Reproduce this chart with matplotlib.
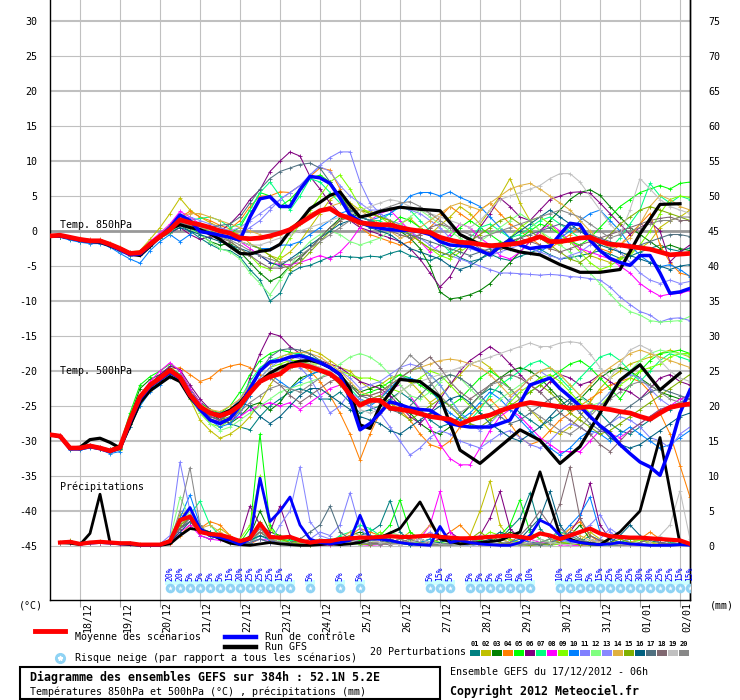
import matplotlib
matplotlib.use("Agg")
import matplotlib.pyplot as plt
from matplotlib.patches import Rectangle
from matplotlib.lines import Line2D

# ---- time axes (hours since 17/12/2012 06h) ----
hours = list(range(0, 385, 6))                       # ensemble, 6-hourly
gfs_hours = list(range(0, 193, 6)) + list(range(198, 379, 12))
day_hours = list(range(18, 385, 24))
day_labels = ["18/12", "19/12", "20/12", "21/12", "22/12", "23/12", "24/12", "25/12",
              "26/12", "27/12", "28/12", "29/12", "30/12", "31/12", "01/01", "02/01"]

pert_colors = ["#008080", "#c0c000", "#008000", "#ff8000", "#00ff00", "#800080", "#00ff80",
               "#ff00ff", "#80ff00", "#0080ff", "#8080ff", "#80ff80", "#8888ff", "#e0b040",
               "#80b000", "#006080", "#507080", "#806870", "#c0c0c0", "#888888"]

# ---- Temp 850hPa ----
mean_t850 = [-0.7, -0.6, -0.9, -1.2, -1.4, -1.4, -1.9, -2.5, -3.2, -3.1, -1.9,
             -0.8, 0.2, 1.6, 1.2, 0.9, 0.5, 0.0, -0.3,
             -1.0, -1.1, -1.0, -0.7, -0.3, 0.2, 1.1, 2.0, 2.9, 3.2, 2.3, 1.8, 1.2, 1.0,
             0.9, 0.9, 0.5, 0.2, 0.0, -0.2, -0.9, -1.3, -1.6, -1.7, -1.9, -2.1, -2.0, -1.9, -1.7, -1.3,
             -0.8, -1.5, -1.5, -1.3, -1.0, -0.9, -1.5, -1.9, -2.0, -2.2, -2.4, -2.6, -3.0, -3.4, -3.3, -3.2]
ctl_t850 = [-0.7, -0.7, -1.0, -1.3, -1.5, -1.5, -2.0, -2.7, -3.4, -3.3, -2.0,
            -0.8, 0.5, 2.3, 1.5, -0.1, -0.3, -0.6, -0.9,
            -1.3, 2.0, 4.6, 4.9, 3.5, 3.5, 5.9, 7.8, 7.6, 6.8, 4.7, 2.3, 1.4, 0.7,
            0.4, 0.2, 0.1, 0.1, -0.1, -0.5, -1.5, -2.0, -2.1, -2.2, -2.8, -3.4, -2.2, -1.3, -2.0, -2.5,
            -2.3, -2.2, -0.5, 1.1, 0.9, -1.3, -2.8, -3.9, -4.5, -4.9, -3.5, -3.5, -6.0, -8.9, -8.7, -8.2]
gfs_t850 = [-0.7, -0.7, -1.0, -1.3, -1.5, -1.6, -2.1, -2.7, -3.3, -3.5, -2.2,
            -0.8, 0.3, 0.9, 0.5, 0.2, -0.4, -1.2, -2.2,
            -3.2, -3.3, -2.9, -2.7, -1.9, 0.0, 1.4, 3.2, 4.1, 5.1, 5.6, 3.7, 2.0, 2.3,
            2.8, 3.4, 3.1, 2.9, -0.5, -1.9, -2.2, -3.0, -3.4, -4.8, -5.9, -5.9, -5.5, -0.4, 3.8, 3.9]
pert_t850 = [
    [-0.6, -0.8, -1.2, -1.5, -1.6, -1.5, -2.0, -2.6, -3.3, -3.0, -1.6,
     -0.5, 0.2, 0.8, 0.0, -1.0, -1.9, -2.6, -2.8,
     -3.7, -5.5, -7.0, -10.0, -8.9, -6.0, -5.2, -4.9, -4.3, -3.7, -3.6, -3.7, -3.8, -3.6,
     -3.7, -3.2, -2.8, -3.5, -3.9, -4.2, -3.6, -3.0, -3.8, -4.4, -4.0, -3.3, -3.9, -4.2, -3.6, -3.1,
     -2.6, -3.4, -4.0, -3.8, -3.5, -3.2, -2.8, -3.3, -3.9, -3.6, -3.0, -2.5, -2.0, -2.6, -2.9, -2.4],
    [-0.7, -0.5, -0.8, -1.1, -1.3, -1.2, -1.7, -2.3, -3.0, -2.8, -1.2,
     0.5, 2.5, 4.7, 3.0, 2.0, 1.2, 0.5, 0.0,
     -0.5, -1.8, -2.5, -3.5, -4.0, -3.0, -1.5, 0.5, 2.5, 4.5, 5.5, 4.0, 3.0, 2.8,
     2.0, 1.5, 1.0, 1.8, 0.5, -0.5, 0.8, 2.0, 3.5, 2.5, 1.0, 3.0, 5.0, 7.5, 4.0, 1.5,
     0.0, -1.5, -2.0, -1.0, -2.5, -3.5, -4.0, -4.5, -3.8, -3.0, -2.5, -1.5, 0.5, 1.5, 2.0, 3.0],
    [-0.8, -0.8, -1.1, -1.4, -1.5, -1.5, -2.1, -2.8, -3.4, -3.3, -2.0,
     -0.9, 0.0, 0.8, 0.5, -0.5, -1.5, -2.0, -1.8,
     -3.0, -4.5, -6.0, -7.2, -6.5, -5.0, -3.8, -2.5, -1.0, 0.5, 1.8, 2.5, 2.0, 1.5,
     1.0, 0.5, 0.0, -1.0, -2.5, -5.0, -8.7, -9.7, -9.5, -9.1, -8.5, -7.5, -6.0, -4.5, -3.0, -1.5,
     0.0, 1.5, 3.0, 4.5, 5.5, 5.9, 5.1, 3.5, 2.0, 0.5, -0.5, -1.5, -2.5, -2.0, -2.5, -2.8],
    [-0.5, -0.6, -0.8, -1.0, -1.2, -1.3, -1.8, -2.4, -3.0, -2.9, -1.7,
     -0.6, 0.5, 2.0, 2.8, 2.0, 1.5, 0.8, 0.3,
     1.5, 3.5, 5.0, 5.0, 5.6, 5.5, 6.5, 7.8, 9.0, 8.7, 6.0, 2.5, 0.5, -0.5,
     -1.0, -1.5, -2.0, -1.5, -0.5, 0.5, 2.0, 3.5, 2.5, 1.5, 3.0, 4.0, 2.5, 1.0, 0.0, -1.0,
     -2.0, -2.5, -1.5, -0.5, 0.5, -1.0, -2.5, -3.0, -2.0, -0.5, 1.0, 2.5, -2.0, -4.5, -6.0, -6.4],
    [-0.7, -0.7, -1.0, -1.3, -1.5, -1.4, -1.9, -2.4, -3.1, -3.0, -1.8,
     -0.6, 0.6, 2.0, 1.5, 1.0, 0.6, 0.2, -0.3,
     0.5, 3.0, 5.5, 5.0, 3.5, 4.5, 6.0, 7.5, 8.0, 7.0, 5.0, 3.5, 2.0, 1.5,
     1.0, 0.8, 2.0, 1.5, 0.5, -0.5, -1.5, -1.0, 0.5, 1.5, 0.5, -0.5, -1.5, -2.0, -1.0, 0.0,
     1.0, 0.5, -0.5, -1.5, -2.0, -1.0, 0.5, 2.0, 3.5, 4.5, 5.5, 6.0, 6.5, 6.0, 6.8, 7.0],
    [-0.6, -0.7, -1.0, -1.3, -1.6, -1.6, -2.2, -2.8, -3.5, -3.4, -2.2,
     -1.0, -0.3, 0.5, -0.5, -1.2, -0.8, 0.0, 1.0,
     2.5, 4.5, 5.9, 8.5, 10.0, 11.3, 10.7, 7.8, 6.0, 4.0, 2.5, 1.5, 0.5, 0.0,
     -0.5, -1.0, -1.5, -2.5, -4.0, -6.0, -8.0, -6.5, -4.0, -2.0, 0.5, 2.5, 4.7, 3.5, 2.0, 1.5,
     3.0, 4.5, 5.0, 5.5, 5.6, 5.4, 4.0, 2.5, 1.0, -0.5, 0.5, 1.3, 0.0, -4.4, -3.0, -2.0],
    [-0.7, -0.6, -0.9, -1.2, -1.4, -1.5, -2.0, -2.6, -3.2, -3.2, -2.1,
     -1.0, -0.2, 1.0, 1.5, 1.8, 2.0, 1.5, 0.5,
     1.0, 3.0, 5.5, 7.0, 5.0, 3.0, 5.0, 7.5, 7.0, 5.5, 4.0, 3.0, 2.0, 1.5,
     1.5, 2.5, 3.5, 3.0, 1.5, 0.0, -1.5, -3.0, -2.0, -1.0, 0.5, 1.0, 0.0, -1.0, -0.5, 0.5,
     1.5, 2.0, 1.0, 0.0, -1.0, -0.5, -1.5, -2.5, -1.0, 1.0, 3.0, 6.8, 5.0, 4.0, 5.0, 4.5],
    [-0.6, -0.5, -0.8, -1.1, -1.3, -1.3, -1.8, -2.5, -3.1, -2.9, -1.5,
     -0.3, 1.0, 2.8, 2.0, 1.0, 0.5, -0.5, -1.0,
     -1.5, -2.5, -3.5, -4.5, -4.8, -4.8, -4.5, -4.0, -3.5, -4.0, -3.0, -1.5, 0.5, 1.5,
     2.5, 3.0, 1.5, 0.0, -1.5, -3.0, -2.0, -0.5, 1.0, 0.5, -1.0, -2.0, -3.5, -4.0, -3.0, -1.5,
     0.0, 1.0, 0.0, -1.5, -2.5, -3.0, -3.5, -4.0, -5.0, -6.0, -7.5, -8.5, -9.3, -9.0, -8.9, -8.5],
    [-0.7, -0.7, -1.0, -1.3, -1.4, -1.4, -1.9, -2.5, -3.2, -3.1, -2.0,
     -0.8, 0.2, 1.5, 1.0, 0.5, 0.0, -0.5, -1.5,
     -2.5, -3.5, -5.0, -5.5, -3.5, -1.0, 1.0, 3.0, 5.0, 7.0, 8.0, 6.0, 3.5, 2.5,
     2.0, 1.0, 0.5, -0.5, -1.5, -2.5, -3.5, -4.0, -3.0, -2.0, -3.0, -3.5, -2.5, -1.0, 0.5, 1.5,
     2.0, 1.0, -0.5, -1.5, -3.0, -4.5, -5.5, -5.0, -4.0, -3.5, -2.0, 0.0, 2.5, 4.5, 5.0, 4.8],
    [-0.8, -0.9, -1.3, -1.6, -1.8, -1.8, -2.3, -3.2, -4.0, -4.6, -2.8,
     -1.5, -0.5, -1.5, -0.5, 0.5, 0.0, -0.5, -1.0,
     -1.5, -2.0, -2.5, -2.5, -2.0, -2.0, -1.5, -0.5, 0.5, 1.5, 2.5, 3.0, 2.0, 1.5,
     2.0, 2.5, 3.5, 5.0, 5.5, 5.5, 5.0, 5.6, 4.8, 4.2, 3.5, 2.0, 0.5, -1.0, -2.0, -2.5,
     -3.0, -2.0, -1.0, 0.0, 1.5, 2.5, 3.0, 1.5, 0.0, -2.0, -3.5, -4.5, -5.1, -4.8, -5.5, -6.5],
    [-0.6, -0.6, -0.9, -1.2, -1.3, -1.4, -1.8, -2.4, -3.0, -3.0, -1.8,
     -0.5, 0.5, 1.5, 1.0, 0.5, 0.0, -0.5, -1.0,
     -0.5, 0.5, 1.5, 3.0, 4.5, 5.5, 6.5, 8.0, 9.4, 10.5, 11.3, 11.3, 7.0, 4.0,
     2.5, 1.5, 1.0, 0.0, -1.0, -2.0, -3.0, -3.5, -4.0, -4.5, -5.0, -5.5, -6.0, -6.0, -6.1, -6.2,
     -6.3, -6.2, -6.3, -6.5, -6.6, -6.8, -7.0, -8.0, -9.4, -10.5, -11.5, -12.0, -13.0, -12.5, -12.4, -12.8],
    [-0.7, -0.8, -1.1, -1.4, -1.5, -1.5, -2.1, -2.8, -3.5, -3.3, -2.1,
     -1.0, -0.3, 0.8, 0.3, -0.5, -1.5, -2.5, -3.0,
     -4.0, -6.0, -7.5, -9.1, -7.0, -5.0, -3.0, -1.5, -0.5, 0.0, -0.5, -1.5, -2.0, -1.5,
     -1.0, 0.0, 1.0, 2.0, 3.0, 2.0, 1.0, 0.0, -1.0, -2.0, -1.5, -0.5, 0.5, 1.5, 2.5, 1.5,
     0.0, -1.0, -2.0, -3.0, -4.5, -6.0, -7.5, -9.0, -10.5, -11.5, -12.0, -12.8, -13.0, -12.9, -12.8, -12.2],
    [-0.6, -0.6, -0.9, -1.2, -1.4, -1.4, -1.9, -2.5, -3.2, -3.1, -1.9,
     -0.8, 0.3, 1.5, 2.0, 1.5, 1.0, 0.5, 0.0,
     0.5, 1.5, 2.5, 3.5, 4.5, 5.5, 6.5, 8.0, 9.2, 8.5, 6.5, 5.0, 4.0, 3.0,
     3.0, 3.2, 3.5, 3.0, 2.5, 1.5, 0.5, -1.0, -2.0, -2.5, -3.0, -3.5, -3.0, -2.5, -2.0, -2.5,
     -3.0, -3.5, -4.0, -3.5, -3.0, -2.0, -1.0, -2.0, -3.0, -4.5, -6.0, -7.0, -7.5, -7.0, -7.5, -7.2],
    [-0.7, -0.6, -0.9, -1.2, -1.4, -1.4, -1.9, -2.5, -3.1, -3.0, -1.8,
     -0.5, 0.8, 2.0, 2.5, 2.5, 2.0, 1.5, 1.0,
     0.5, 0.0, -0.5, -1.0, -0.5, 0.5, 1.5, 2.5, 3.0, 3.5, 4.0, 3.5, 3.0, 2.0,
     1.0, 0.0, -1.0, -0.5, 0.5, 1.5, 2.5, 3.5, 4.0, 3.5, 3.0, 4.0, 5.0, 6.0, 6.5, 6.8,
     6.0, 5.0, 4.0, 3.0, 1.5, 0.0, -1.5, -2.5, -2.0, -1.0, 1.0, 3.5, 5.1, 4.5, 3.5, 3.0],
    [-0.7, -0.7, -1.0, -1.3, -1.5, -1.5, -2.0, -2.6, -3.3, -3.2, -2.0,
     -0.7, 0.5, 1.5, 1.0, 0.5, 0.0, -0.5, -1.0,
     -1.5, -2.0, -2.5, -3.5, -4.5, -5.5, -4.5, -3.0, -1.5, 0.0, 1.5, 2.5, 3.0, 2.5,
     2.0, 1.5, 0.5, -0.5, -1.5, -2.5, -3.0, -3.5, -2.5, -1.5, -0.5, 0.5, 1.5, 2.0, 1.0, 0.0,
     -1.0, -2.0, -3.0, -4.0, -4.5, -3.5, -2.0, -0.5, 1.0, 2.0, 3.0, 3.5, 3.0, 2.5, 2.0, 1.5],
    [-0.8, -0.8, -1.1, -1.4, -1.6, -1.6, -2.1, -2.7, -3.4, -3.3, -2.1,
     -1.0, -0.2, 0.5, 0.0, -0.5, -1.0, -1.5, -2.0,
     -2.5, -3.0, -3.5, -4.5, -5.0, -4.0, -3.0, -2.0, -1.0, 0.0, 1.0, 1.5, 1.0, 0.5,
     0.0, -0.5, -1.5, -2.5, -3.0, -3.5, -4.0, -5.0, -5.5, -5.0, -4.0, -3.0, -2.0, -1.0, 0.0, 1.0,
     2.0, 3.0, 2.0, 1.0, 0.0, -1.0, -2.0, -2.5, -3.0, -3.5, -4.0, -4.5, -5.0, -5.5, -5.0, -4.8],
    [-0.6, -0.7, -1.0, -1.3, -1.5, -1.5, -2.0, -2.6, -3.2, -3.1, -2.0,
     -0.7, 0.3, 1.3, 1.0, 0.5, 0.5, 0.8, 1.0,
     2.0, 4.0, 6.0, 7.5, 8.5, 9.0, 9.5, 9.7, 9.0, 7.0, 5.0, 3.0, 2.0, 1.5,
     1.0, 0.5, 0.0, -0.5, -1.0, -1.5, -2.0, -2.5, -3.0, -3.5, -3.0, -2.5, -2.0, -1.5, -1.0, -0.5,
     0.0, 0.5, 1.0, 0.5, 0.0, -0.5, -1.0, -1.5, -2.0, -2.5, -2.0, -1.5, -1.0, -0.5, -0.5, -0.8],
    [-0.7, -0.7, -1.0, -1.3, -1.5, -1.5, -2.0, -2.6, -3.3, -3.2, -2.0,
     -0.9, 0.0, 1.0, 0.5, 0.0, -0.5, -1.0, -1.5,
     -2.5, -3.5, -4.5, -5.3, -5.3, -5.0, -4.0, -2.5, -1.0, 0.5, 1.5, 2.0, 1.5, 1.0,
     0.5, 0.0, -0.5, -1.0, -0.5, 0.5, 1.0, 0.5, -0.5, -1.5, -2.5, -3.0, -2.5, -1.5, -1.0, -1.5,
     -2.0, -2.5, -3.0, -2.5, -2.0, -1.5, -1.0, -0.5, 0.0, 0.5, 1.0, 1.5, 1.8, 2.0, 1.5, 1.5],
    [-0.7, -0.6, -0.9, -1.2, -1.4, -1.4, -1.9, -2.5, -3.2, -3.1, -1.9,
     -0.7, 0.2, 1.0, 0.8, 0.5, 0.2, -0.3, -0.8,
     -1.5, -2.0, -2.0, -1.5, -1.0, -0.5, 0.0, 0.5, 1.0, 1.5, 2.0, 2.5, 3.0, 3.5,
     4.0, 4.5, 4.2, 3.5, 3.0, 2.5, 2.0, 1.5, 1.0, 0.5, 1.5, 3.0, 4.5, 5.0, 5.5, 6.0,
     6.5, 7.5, 8.2, 8.2, 7.0, 5.0, 3.0, 1.0, -0.5, 3.0, 7.5, 6.0, 4.5, 3.5, 3.0, 2.5],
    [-0.7, -0.7, -1.0, -1.3, -1.5, -1.4, -1.9, -2.6, -3.3, -3.2, -2.0,
     -0.8, 0.2, 1.2, 0.8, 0.3, -0.2, -0.8, -1.3,
     -2.0, -2.8, -3.5, -4.0, -4.5, -4.2, -3.5, -2.5, -1.5, -0.5, 0.5, 1.5, 2.0, 2.5,
     3.0, 3.5, 4.0, 4.2, 3.5, 2.5, 1.5, 0.5, 0.0, -0.5, -1.0, -0.5, 0.0, 0.5, 1.0, 1.5,
     2.0, 2.5, 3.0, 2.5, 2.0, 1.0, 0.0, -1.0, -0.5, 0.0, 0.5, 1.0, 1.5, 1.5, 2.0, 2.0],
]

# ---- Temp 500hPa ----
mean_t500 = [-29.1, -29.3, -31.0, -31.0, -30.7, -31.0, -31.4, -30.9, -27.0, -23.7, -22.0,
             -21.0, -19.9, -20.9, -23.4, -25.1, -26.0, -26.4, -25.9,
             -24.9, -23.1, -21.5, -20.8, -20.4, -19.3, -19.1, -19.4, -19.9, -20.4, -21.5, -23.4, -24.9, -24.2,
             -24.2, -25.3, -25.5, -25.7, -26.1, -26.5, -26.7, -26.9, -27.6, -27.0, -26.6, -26.3, -25.7, -25.2, -24.8, -24.5,
             -24.7, -24.9, -25.1, -25.3, -25.2, -25.1, -25.3, -25.5, -25.8, -26.0, -26.5, -26.9, -26.0, -25.2, -24.9, -24.7]
ctl_t500 = [-29.1, -29.3, -31.1, -31.1, -30.8, -31.1, -31.5, -31.0, -27.3, -24.0, -22.2,
            -21.2, -20.2, -21.0, -23.5, -25.5, -27.0, -27.5, -26.8,
            -25.0, -22.5, -20.0, -18.7, -18.5, -18.0, -17.8, -18.2, -18.8, -19.5, -20.5, -24.0, -28.4, -27.5,
            -26.0, -24.4, -24.8, -25.3, -25.5, -25.6, -26.5, -27.5, -27.8, -28.0, -28.0, -28.0, -27.5, -27.0, -24.6, -22.0,
            -21.5, -21.0, -22.5, -23.7, -25.0, -26.5, -27.8, -28.9, -30.5, -31.8, -33.0, -33.7, -34.9, -31.0, -26.0, -22.7]
gfs_t500 = [-29.1, -29.3, -31.0, -30.9, -29.8, -29.6, -30.2, -31.0, -27.8, -24.5, -22.8,
            -21.8, -20.8, -21.5, -23.8, -25.3, -26.0, -26.3, -25.6,
            -24.5, -22.8, -21.5, -20.3, -19.5, -19.0, -18.6, -18.5, -18.8, -19.5, -20.5, -22.5, -27.7, -28.2,
            -25.0, -21.2, -21.5, -23.7, -31.3, -33.2, -30.8, -28.4, -29.9, -33.2, -30.8, -26.0, -21.3, -19.1, -22.7, -20.3]
pert_t500 = [
    [-29.0, -29.4, -31.2, -31.1, -30.8, -31.1, -31.6, -31.2, -27.5, -24.2, -22.4,
     -21.3, -20.3, -21.0, -23.0, -24.5, -25.5, -26.5, -27.5,
     -28.0, -28.4, -26.5, -25.0, -24.0, -23.0, -22.5, -23.0, -24.0, -24.0, -23.0, -24.5, -26.0, -25.5,
     -25.0, -24.0, -23.0, -24.0, -25.5, -27.0, -28.0, -27.5, -26.5, -25.0, -23.5, -22.5, -23.0, -24.5, -26.0, -27.0,
     -28.0, -27.0, -26.0, -24.5, -23.5, -24.5, -26.0, -27.5, -28.5, -29.0, -28.0, -27.0, -26.0, -25.5, -25.0, -24.5],
    [-29.1, -29.3, -31.1, -31.0, -30.8, -31.1, -31.5, -31.3, -28.0, -25.0, -22.8,
     -21.5, -20.4, -20.5, -24.0, -27.0, -28.5, -29.6, -29.0,
     -28.0, -26.5, -24.5, -22.0, -20.0, -18.5, -17.5, -17.0, -17.5, -18.5, -19.5, -20.0, -21.5, -22.5,
     -22.0, -21.0, -20.5, -21.5, -23.0, -24.5, -23.5, -22.0, -20.5, -19.0, -18.5, -19.5, -21.0, -22.5, -24.0, -25.5,
     -27.0, -28.5, -29.0, -28.0, -26.5, -24.5, -22.5, -21.0, -20.0, -19.0, -18.5, -18.0, -17.5, -17.0, -17.5, -18.0],
    [-29.2, -29.3, -31.0, -31.0, -30.7, -31.0, -31.4, -31.0, -26.5, -22.5, -21.2,
     -20.5, -19.5, -20.5, -22.5, -24.5, -26.0, -27.0, -27.5,
     -26.5, -25.0, -24.5, -25.6, -24.5, -22.5, -21.0, -20.5, -20.0, -20.5, -21.0, -22.0, -23.0, -22.5,
     -22.0, -23.0, -24.5, -26.0, -27.5, -28.5, -29.0, -28.0, -26.5, -25.0, -23.5, -22.0, -21.0, -20.0, -19.5, -20.0,
     -21.0, -22.5, -24.0, -25.5, -24.0, -22.5, -21.0, -20.0, -19.5, -20.0, -21.0, -22.0, -23.0, -23.5, -24.0, -23.5],
    [-29.0, -29.2, -30.9, -30.9, -30.6, -30.9, -31.3, -30.8, -27.2, -24.0, -22.3,
     -21.0, -19.8, -19.5, -20.5, -21.5, -21.0, -19.8, -19.3,
     -19.0, -19.5, -20.5, -21.0, -20.5, -19.5, -19.0, -20.0, -21.5, -23.5, -26.0, -29.0, -32.7, -29.0,
     -26.0, -24.5, -25.5, -27.0, -29.0, -30.5, -31.0, -30.0, -28.0, -26.5, -25.0, -24.0, -25.5, -27.5, -29.5, -30.5,
     -30.0, -28.5, -27.0, -26.0, -25.0, -24.0, -23.0, -22.0, -21.5, -21.0, -21.5, -23.0, -26.0, -29.0, -33.5, -38.0],
    [-29.1, -29.3, -30.9, -30.9, -30.6, -30.9, -31.2, -30.5, -26.0, -22.0, -20.8,
     -20.0, -19.0, -20.0, -22.5, -24.5, -25.5, -26.0, -25.0,
     -23.0, -20.5, -18.5, -17.5, -17.0, -17.3, -17.8, -18.5, -19.0, -19.5, -20.5, -22.0, -23.5, -23.0,
     -22.5, -21.5, -20.5, -21.0, -22.0, -23.0, -24.0, -25.0, -24.0, -22.5, -21.0, -20.0, -21.0, -22.5, -24.0, -23.0,
     -22.0, -21.0, -20.0, -19.0, -18.5, -19.5, -21.0, -22.5, -24.0, -22.0, -20.0, -18.5, -17.5, -17.3, -17.0, -17.5],
    [-29.0, -29.3, -31.0, -30.8, -30.5, -30.8, -31.2, -30.6, -26.8, -23.5, -21.8,
     -20.5, -19.3, -19.8, -22.0, -24.0, -25.5, -27.0, -27.5,
     -25.5, -21.0, -17.5, -14.6, -15.0, -16.5, -17.5, -18.0, -18.5, -19.0, -19.5, -20.5, -21.5, -22.0,
     -22.5, -23.5, -25.0, -26.5, -27.5, -26.0, -24.0, -22.0, -20.0, -18.5, -17.5, -16.5, -17.5, -19.0, -20.5, -22.0,
     -23.0, -21.5, -20.5, -21.0, -22.0, -21.5, -20.5, -21.5, -22.5, -23.0, -24.0, -22.5, -21.0, -20.5, -21.5, -22.0],
    [-29.2, -29.4, -31.1, -31.0, -30.8, -31.0, -31.4, -30.9, -27.0, -23.5, -21.8,
     -20.8, -19.7, -20.5, -23.0, -25.0, -26.0, -26.5, -25.5,
     -24.0, -21.5, -19.5, -18.5, -18.0, -17.5, -17.5, -18.0, -18.5, -19.5, -20.5, -22.5, -24.0, -24.5,
     -24.0, -22.5, -21.0, -20.0, -19.5, -20.5, -22.0, -24.0, -26.0, -27.0, -25.5, -23.5, -22.0, -21.0, -20.0, -19.0,
     -18.5, -19.5, -21.0, -22.5, -21.0, -19.5, -18.0, -17.5, -18.5, -20.0, -21.5, -20.0, -18.5, -17.5, -18.0, -18.5],
    [-29.0, -29.2, -30.8, -30.8, -30.6, -30.9, -31.3, -30.8, -26.8, -23.5, -21.5,
     -20.0, -18.8, -20.0, -22.5, -24.5, -26.0, -27.5, -27.0,
     -26.5, -25.5, -25.0, -24.5, -25.0, -24.5, -25.5, -24.5, -23.5, -22.5, -22.0, -23.0, -24.5, -24.0,
     -23.5, -22.5, -22.0, -23.5, -25.5, -28.0, -30.5, -32.5, -33.4, -33.4, -31.0, -28.5, -26.5, -25.5, -26.5, -28.0,
     -29.5, -30.5, -31.5, -31.5, -31.5, -30.0, -28.5, -29.0, -29.5, -28.5, -27.5, -26.5, -25.5, -25.0, -24.0, -23.5],
    [-29.1, -29.3, -31.0, -31.0, -30.7, -31.0, -31.5, -31.1, -27.5, -24.0, -22.0,
     -21.0, -20.0, -21.0, -23.5, -26.0, -27.5, -28.0, -27.0,
     -25.5, -23.5, -21.0, -19.5, -19.0, -18.5, -18.5, -19.0, -19.0, -19.5, -20.0, -20.5, -21.0, -21.0,
     -21.5, -22.5, -23.0, -22.0, -21.0, -20.0, -20.5, -22.0, -23.5, -25.0, -26.0, -27.0, -26.0, -24.5, -23.0, -22.0,
     -21.0, -20.5, -21.5, -23.0, -24.5, -26.0, -25.0, -23.5, -22.0, -21.0, -20.0, -19.5, -19.0, -18.0, -17.5, -17.5],
    [-29.2, -29.5, -31.3, -31.3, -31.0, -31.2, -31.8, -31.5, -28.0, -25.0, -23.0,
     -22.0, -20.8, -21.0, -23.0, -25.5, -27.0, -28.0, -27.5,
     -26.0, -23.5, -21.5, -20.5, -21.5, -22.5, -21.5, -20.5, -20.0, -20.5, -21.5, -23.0, -24.5, -25.0,
     -24.0, -22.5, -21.0, -21.0, -21.5, -22.5, -24.5, -26.0, -27.0, -26.0, -24.5, -23.0, -24.0, -25.5, -27.0, -28.5,
     -30.0, -31.0, -32.0, -31.0, -29.5, -28.5, -29.0, -30.0, -29.0, -28.0, -29.0, -30.0, -31.0, -30.5, -29.5, -28.5],
    [-29.0, -29.3, -31.0, -30.9, -30.6, -30.9, -31.3, -30.7, -26.8, -23.6, -21.9,
     -20.8, -19.7, -20.7, -23.3, -25.0, -25.8, -26.2, -25.5,
     -24.0, -22.0, -20.0, -19.0, -18.5, -18.5, -19.5, -21.0, -23.5, -26.0, -25.0, -23.0, -24.0, -25.0,
     -26.0, -28.0, -30.0, -32.0, -31.0, -29.5, -28.5, -29.0, -30.0, -30.5, -31.0, -30.0, -29.0, -28.5, -29.5, -30.5,
     -31.0, -30.0, -28.5, -27.5, -28.0, -29.0, -28.5, -27.5, -26.5, -27.0, -28.0, -29.5, -30.0, -31.0, -29.0, -28.0],
    [-29.2, -29.4, -31.1, -31.1, -30.8, -31.1, -31.6, -31.2, -27.6, -24.3, -22.5,
     -21.5, -20.5, -21.5, -24.0, -26.0, -27.5, -28.5, -28.0,
     -27.0, -26.0, -25.0, -24.0, -23.0, -22.5, -22.0, -21.5, -21.0, -20.0, -19.0, -18.0, -17.5, -18.0,
     -19.0, -20.5, -22.0, -23.5, -24.0, -23.0, -21.5, -20.5, -21.0, -22.5, -24.0, -25.0, -24.0, -23.0, -22.0, -21.0,
     -20.0, -19.5, -20.5, -22.0, -23.5, -25.0, -24.5, -23.0, -21.5, -20.0, -18.5, -17.5, -17.0, -17.3, -17.5, -17.8],
    [-29.1, -29.3, -31.0, -31.0, -30.7, -31.0, -31.4, -30.9, -27.2, -24.0, -22.2,
     -21.2, -20.2, -21.2, -23.5, -25.2, -26.0, -26.5, -26.0,
     -25.0, -23.0, -21.0, -19.5, -18.5, -18.0, -18.2, -18.5, -19.0, -19.5, -20.0, -21.0, -22.5, -22.0,
     -21.5, -20.5, -19.5, -19.0, -19.4, -20.5, -22.0, -24.0, -26.0, -27.5, -28.5, -27.5, -26.0, -24.0, -22.5, -21.0,
     -20.0, -21.0, -22.5, -24.0, -25.5, -26.0, -24.5, -23.0, -21.5, -20.5, -21.0, -22.5, -24.0, -25.0, -24.5, -23.5],
    [-29.0, -29.2, -30.9, -30.9, -30.6, -30.9, -31.3, -30.8, -27.0, -23.8, -22.0,
     -21.0, -20.0, -21.0, -23.2, -24.8, -25.5, -25.8, -25.0,
     -24.0, -22.0, -20.0, -19.0, -18.0, -17.5, -17.3, -17.5, -18.0, -19.0, -20.0, -21.5, -23.0, -23.5,
     -23.0, -22.0, -21.0, -20.0, -19.5, -19.0, -18.5, -18.3, -18.5, -19.0, -19.5, -20.5, -22.0, -23.5, -22.5, -21.0,
     -20.0, -19.5, -20.5, -22.0, -23.5, -22.0, -20.5, -19.5, -18.5, -17.5, -17.0, -17.5, -18.0, -18.5, -19.0, -19.5],
    [-29.1, -29.4, -31.1, -31.0, -30.7, -31.0, -31.4, -31.0, -27.3, -24.0, -22.0,
     -21.0, -20.0, -21.0, -23.5, -25.5, -26.5, -27.0, -26.5,
     -25.0, -23.0, -21.5, -20.5, -20.0, -19.5, -19.0, -19.0, -19.5, -20.5, -22.0, -23.5, -24.5, -24.0,
     -23.5, -24.5, -26.0, -27.0, -26.0, -25.0, -24.0, -25.0, -26.5, -27.5, -28.0, -27.0, -26.0, -25.0, -24.0, -23.0,
     -22.0, -23.0, -24.5, -26.0, -27.0, -28.0, -29.0, -28.5, -27.5, -26.5, -25.5, -24.5, -23.5, -22.5, -21.5, -20.5],
    [-29.2, -29.4, -31.2, -31.1, -30.8, -31.1, -31.6, -31.1, -27.5, -24.2, -22.3,
     -21.3, -20.3, -21.2, -23.6, -25.5, -26.5, -27.0, -26.0,
     -24.5, -25.0, -26.5, -27.5, -26.5, -25.0, -23.5, -22.5, -22.5, -23.5, -24.5, -25.5, -26.5, -27.0,
     -27.5, -28.5, -29.0, -28.0, -27.0, -26.0, -25.0, -24.0, -23.5, -24.5, -26.0, -27.5, -28.5, -29.5, -30.0, -29.0,
     -28.0, -26.5, -25.0, -24.0, -25.0, -26.5, -28.0, -29.5, -30.5, -31.0, -30.5, -29.5, -28.5, -27.5, -26.5, -26.0],
    [-29.0, -29.3, -31.0, -31.0, -30.7, -31.0, -31.4, -30.9, -27.0, -23.7, -22.0,
     -21.0, -19.9, -20.9, -23.4, -25.0, -25.8, -26.0, -25.5,
     -24.5, -22.5, -20.0, -18.0, -17.0, -16.8, -17.0, -17.5, -18.5, -19.5, -20.5, -22.0, -23.5, -24.0,
     -24.5, -25.5, -26.0, -25.0, -23.5, -22.0, -21.0, -20.5, -21.0, -22.0, -23.5, -25.0, -26.5, -27.5, -27.0, -26.0,
     -25.0, -24.0, -23.5, -24.5, -26.0, -27.5, -28.5, -27.5, -26.0, -25.0, -24.0, -23.0, -22.5, -23.0, -23.5, -24.0],
    [-29.1, -29.3, -31.0, -31.0, -30.7, -31.0, -31.4, -30.9, -27.0, -23.7, -22.0,
     -21.0, -20.0, -21.0, -23.5, -25.5, -26.5, -27.0, -26.0,
     -24.5, -22.5, -21.5, -21.0, -22.0, -23.5, -24.5, -23.5, -22.5, -21.5, -21.0, -22.0, -23.5, -23.5,
     -23.0, -22.0, -21.0, -20.0, -19.0, -18.0, -19.5, -21.5, -23.0, -24.0, -23.0, -22.0, -21.0, -20.5, -21.0, -22.0,
     -23.0, -24.5, -26.0, -27.0, -28.0, -29.0, -30.5, -31.5, -30.0, -28.5, -27.5, -26.5, -25.5, -25.0, -24.5, -24.0],
    [-29.1, -29.3, -31.0, -30.9, -30.6, -30.9, -31.3, -30.8, -27.0, -23.8, -22.1,
     -21.1, -20.0, -21.0, -23.4, -25.2, -26.0, -26.3, -25.8,
     -24.8, -23.0, -21.5, -20.5, -20.0, -19.5, -19.0, -19.0, -19.5, -20.0, -21.0, -23.0, -25.5, -26.0,
     -25.5, -24.5, -23.0, -22.0, -21.5, -21.0, -20.5, -20.0, -19.5, -19.0, -18.5, -18.0, -17.5, -17.0, -16.5, -16.0,
     -16.5, -16.5, -16.0, -15.8, -16.0, -17.5, -19.5, -21.0, -19.0, -17.0, -16.3, -17.0, -18.5, -20.0, -21.0, -21.5],
    [-29.1, -29.3, -31.0, -31.0, -30.7, -31.0, -31.4, -30.9, -27.2, -23.9, -22.1,
     -21.1, -20.1, -21.1, -23.6, -25.6, -26.8, -27.3, -26.8,
     -25.8, -24.5, -23.5, -22.5, -22.0, -22.5, -23.0, -22.0, -21.0, -20.5, -21.5, -23.0, -24.5, -24.5,
     -24.0, -22.0, -19.5, -17.7, -19.0, -21.5, -23.5, -25.0, -26.0, -25.0, -23.5, -22.0, -21.5, -22.5, -24.0, -25.5,
     -26.5, -27.5, -28.5, -29.0, -28.0, -26.5, -25.0, -24.0, -23.0, -22.0, -21.5, -22.0, -23.0, -24.0, -24.5, -25.0],
]

# ---- Precipitations (mm), from +6h ----
mean_pr = [0.5, 0.6, 0.3, 0.5, 0.6, 0.5, 0.4, 0.4, 0.2, 0.2, 0.2, 0.7,
           3.7, 4.2, 2.0, 1.7, 1.6, 1.2, 0.7, 1.1, 3.2, 1.3, 1.2, 1.3, 0.8, 0.5, 0.7, 0.7, 1.0, 1.1, 1.2, 1.2,
           1.3, 1.4, 1.3, 1.3, 1.4, 1.5, 1.3, 1.2, 1.1, 1.1, 1.2, 1.3, 1.4, 1.5, 1.3, 1.1,
           1.8, 1.5, 1.0, 1.5, 2.0, 2.5, 1.8, 1.4, 1.3, 1.2, 1.2, 1.1, 1.0, 0.9, 0.8, 0.3]
ctl_pr = [0.5, 0.6, 0.3, 0.4, 0.5, 0.4, 0.3, 0.3, 0.1, 0.1, 0.1, 0.8,
          3.5, 5.5, 2.5, 1.5, 1.2, 0.8, 0.2, 1.0, 9.7, 3.5, 5.0, 7.0, 3.0, 1.0, 0.5, 0.3, 0.5, 0.8, 4.4, 1.0,
          1.0, 0.8, 0.5, 0.3, 0.2, 0.1, 2.8, 0.5, 0.8, 0.5, 0.3, 0.2, 0.1, 0.1, 0.5, 1.5,
          3.7, 3.0, 1.5, 0.8, 0.5, 0.3, 0.2, 0.3, 0.5, 0.3, 0.2, 0.1, 0.1, 0.1, 0.2, 0.1]
gfs_pr = [0.5, 0.4, 0.2, 1.8, 7.4, 0.5, 0.3, 0.2, 0.1, 0.1, 0.1, 0.3,
          1.5, 2.5, 2.3, 1.8, 1.0, 0.4, 0.2, 0.1, 0.3, 0.5, 0.3, 0.2, 0.1, 0.1, 0.2, 0.3, 0.2, 0.3, 0.5, 1.0,
          1.2, 2.5, 6.3, 1.0, 0.3, 0.5, 0.8, 2.0, 10.6, 1.5, 0.5, 0.2, 2.0, 5.0, 15.5, 0.3]
pert_pr = [
    [0.5, 0.7, 0.4, 0.5, 0.6, 0.4, 0.4, 0.3, 0.2, 0.1, 0.2, 0.5,
     2.5, 4.0, 1.5, 1.0, 1.5, 0.8, 0.3, 0.5, 2.0, 1.0, 0.5, 0.8, 0.3, 0.2, 0.5, 1.0, 0.8, 0.5, 1.5, 2.0,
     3.0, 6.5, 2.0, 0.8, 0.5, 0.3, 0.5, 1.0, 0.5, 0.3, 0.2, 0.5, 1.0, 2.5, 4.0, 7.6,
     2.5, 1.0, 0.5, 0.3, 0.5, 1.5, 0.8, 0.3, 0.2, 0.1, 0.2, 0.5, 0.3, 0.2, 0.1, 0.1],
    [0.6, 0.8, 0.3, 0.5, 0.7, 0.5, 0.4, 0.5, 0.3, 0.2, 0.1, 0.8,
     4.5, 5.0, 2.0, 1.5, 2.5, 1.5, 0.5, 1.0, 3.0, 1.5, 0.8, 0.5, 0.3, 0.5, 1.0, 0.5, 0.3, 0.8, 1.0, 0.5,
     0.3, 0.5, 1.0, 2.0, 1.0, 0.5, 0.3, 0.2, 0.5, 1.5, 5.0, 9.3, 3.0, 1.0, 0.5, 0.3,
     0.5, 1.0, 0.5, 0.3, 0.8, 2.0, 1.0, 0.5, 0.3, 0.5, 1.0, 0.5, 0.3, 0.2, 0.1, 0.1],
    [0.5, 0.5, 0.3, 0.4, 0.5, 0.5, 0.4, 0.4, 0.2, 0.2, 0.2, 0.6,
     3.0, 4.0, 2.5, 2.0, 1.5, 1.0, 0.5, 1.5, 5.0, 2.0, 1.5, 1.0, 0.8, 0.5, 0.3, 0.5, 1.0, 1.5, 2.0, 1.5,
     1.0, 0.5, 0.3, 0.5, 1.0, 0.5, 0.3, 0.2, 0.1, 0.1, 0.3, 0.5, 1.0, 2.0, 1.5, 0.5,
     0.3, 0.2, 0.5, 1.5, 3.0, 1.0, 0.5, 0.3, 0.2, 0.1, 0.1, 0.2, 0.3, 0.2, 0.1, 0.1],
    [0.4, 0.5, 0.2, 0.4, 0.5, 0.4, 0.3, 0.3, 0.1, 0.1, 0.1, 0.3,
     1.5, 3.0, 2.5, 3.5, 3.0, 1.5, 0.5, 0.3, 1.0, 0.5, 0.3, 0.5, 0.8, 0.5, 0.3, 0.2, 0.5, 1.5, 2.5, 2.0,
     1.5, 0.8, 0.5, 0.3, 0.2, 0.5, 1.0, 2.0, 3.0, 1.5, 0.5, 0.3, 0.2, 0.5, 1.0, 0.5,
     0.3, 0.5, 1.0, 2.5, 3.5, 1.5, 0.5, 0.3, 0.2, 0.5, 1.0, 2.0, 1.0, 0.5, 0.3, 0.2],
    [0.5, 0.6, 0.3, 0.5, 0.6, 0.5, 0.4, 0.4, 0.2, 0.2, 0.2, 0.7,
     3.5, 5.0, 2.0, 1.5, 1.0, 0.8, 0.5, 2.5, 16.0, 3.0, 1.0, 0.8, 0.5, 0.3, 0.5, 1.0, 0.8, 0.5, 0.8, 1.0,
     1.5, 3.0, 6.6, 2.0, 1.0, 0.5, 0.3, 0.2, 0.5, 1.0, 0.8, 0.5, 1.5, 3.0, 6.6, 2.0,
     1.0, 0.5, 0.3, 0.5, 1.0, 0.5, 0.3, 0.2, 0.5, 1.0, 0.8, 0.5, 0.3, 0.2, 0.1, 0.1],
    [0.5, 0.6, 0.3, 0.5, 0.5, 0.4, 0.3, 0.4, 0.2, 0.1, 0.2, 0.6,
     2.5, 3.5, 2.0, 1.5, 1.0, 0.5, 1.0, 5.7, 3.0, 2.0, 5.7, 1.5, 0.8, 0.5, 0.3, 0.5, 1.0, 0.8, 0.5, 0.3,
     0.5, 1.0, 0.5, 0.3, 0.2, 0.5, 1.0, 2.0, 1.0, 0.5, 1.5, 4.0, 7.8, 2.5, 1.0, 0.5,
     0.3, 0.5, 1.0, 2.0, 4.0, 9.0, 3.0, 1.0, 0.5, 0.3, 0.2, 0.5, 1.0, 0.5, 0.3, 0.2],
    [0.5, 0.6, 0.3, 0.5, 0.6, 0.5, 0.4, 0.4, 0.2, 0.2, 0.2, 0.7,
     3.0, 4.5, 6.4, 3.0, 1.5, 1.0, 0.5, 0.8, 2.0, 1.0, 0.5, 0.8, 1.0, 0.5, 0.3, 0.5, 1.5, 2.0, 3.0, 2.5,
     1.5, 0.8, 0.5, 0.3, 0.5, 1.0, 0.5, 0.3, 0.2, 0.1, 0.3, 0.5, 1.0, 0.5, 0.3, 0.2,
     0.5, 1.0, 2.0, 1.5, 0.8, 0.5, 0.3, 0.2, 0.1, 0.1, 0.2, 0.5, 1.0, 0.5, 0.3, 0.2],
    [0.4, 0.5, 0.2, 0.4, 0.5, 0.4, 0.3, 0.3, 0.2, 0.1, 0.1, 0.4,
     2.0, 3.0, 1.5, 1.0, 0.8, 0.5, 0.3, 0.5, 1.0, 0.8, 0.5, 0.3, 0.2, 0.1, 0.1, 0.2, 0.5, 0.3, 0.2, 0.1,
     0.2, 0.5, 1.0, 0.5, 1.0, 3.0, 7.8, 2.0, 0.5, 0.3, 0.2, 0.1, 0.1, 0.2, 0.5, 1.0,
     0.5, 0.3, 0.2, 0.1, 0.1, 0.2, 0.3, 0.2, 0.1, 0.1, 0.1, 0.2, 0.3, 0.2, 0.1, 0.1],
    [0.5, 0.6, 0.3, 0.5, 0.6, 0.5, 0.4, 0.4, 0.2, 0.2, 0.2, 0.6,
     3.0, 4.0, 2.0, 1.5, 1.0, 0.8, 1.0, 3.0, 10.0, 2.5, 1.0, 0.5, 0.3, 0.2, 0.5, 0.8, 0.5, 0.3, 0.5, 1.0,
     2.0, 1.0, 0.5, 0.3, 0.5, 1.0, 0.5, 0.3, 0.2, 0.5, 1.0, 2.0, 1.5, 0.8, 0.5, 0.3,
     0.2, 0.1, 0.3, 0.8, 0.5, 0.3, 0.2, 0.1, 0.2, 0.5, 0.8, 0.5, 0.3, 0.2, 0.1, 0.1],
    [0.5, 0.6, 0.4, 0.5, 0.6, 0.5, 0.4, 0.4, 0.2, 0.2, 0.2, 0.6,
     4.0, 7.3, 3.0, 1.5, 1.0, 0.5, 0.3, 0.5, 1.5, 0.8, 0.5, 0.3, 0.2, 0.3, 0.5, 0.3, 0.2, 0.5, 1.0, 1.5,
     1.0, 0.5, 0.3, 0.2, 0.5, 1.0, 2.5, 1.0, 0.5, 0.3, 0.2, 0.1, 0.3, 0.5, 1.0, 0.5,
     0.3, 0.5, 1.5, 3.0, 4.5, 7.0, 2.0, 1.0, 0.5, 0.3, 0.2, 0.1, 0.2, 0.3, 0.2, 0.1],
    [0.5, 0.6, 0.3, 0.5, 0.6, 0.5, 0.4, 0.4, 0.2, 0.2, 0.3, 1.5,
     12.0, 5.0, 2.0, 1.5, 1.0, 0.5, 0.3, 0.5, 1.0, 0.5, 0.3, 0.2, 0.5, 1.0, 2.0, 1.5, 3.0, 7.6, 2.5, 1.0,
     0.5, 0.3, 0.2, 0.5, 1.0, 0.5, 0.3, 0.2, 0.1, 0.1, 0.2, 0.5, 1.0, 0.5, 0.3, 0.2,
     0.1, 0.2, 0.5, 1.0, 2.0, 3.0, 4.5, 2.0, 1.0, 0.5, 0.3, 0.2, 0.1, 0.1, 0.1, 0.1],
    [0.5, 0.6, 0.3, 0.5, 0.6, 0.5, 0.4, 0.4, 0.2, 0.2, 0.3, 1.0,
     7.0, 4.0, 2.0, 1.5, 1.0, 0.5, 0.3, 0.5, 1.5, 1.0, 0.8, 0.5, 0.3, 0.2, 0.5, 1.0, 0.5, 0.3, 0.2, 0.5,
     1.0, 2.0, 1.5, 0.8, 0.5, 0.3, 0.2, 0.1, 0.2, 0.5, 1.0, 0.5, 0.3, 0.2, 0.1, 0.1,
     0.2, 0.5, 1.0, 0.5, 0.3, 0.2, 0.1, 0.1, 0.2, 0.5, 0.3, 0.2, 0.1, 0.1, 0.2, 0.5],
    [0.5, 0.6, 0.3, 0.5, 0.6, 0.5, 0.4, 0.4, 0.2, 0.2, 0.2, 0.6,
     3.0, 4.0, 2.5, 2.0, 1.0, 0.5, 0.3, 0.5, 1.0, 0.5, 3.0, 5.0, 11.3, 3.5, 1.5, 1.0, 0.5, 0.3, 0.5, 1.0,
     0.8, 0.5, 0.3, 0.5, 1.0, 2.0, 1.0, 0.5, 0.3, 0.5, 1.5, 1.0, 0.5, 0.3, 0.2, 0.1,
     0.2, 0.5, 1.0, 0.5, 0.3, 0.5, 1.0, 2.5, 1.5, 0.5, 0.3, 0.2, 0.1, 0.1, 0.1, 0.1],
    [0.5, 0.6, 0.3, 0.5, 0.6, 0.5, 0.4, 0.4, 0.2, 0.2, 0.2, 0.6,
     3.0, 4.5, 2.5, 3.0, 2.0, 1.0, 0.5, 0.8, 2.0, 1.0, 0.5, 0.3, 0.5, 1.0, 0.5, 0.3, 1.0, 2.0, 1.5, 1.0,
     0.5, 0.3, 0.2, 0.5, 1.5, 3.0, 1.5, 0.8, 0.5, 0.3, 0.2, 0.5, 1.0, 0.5, 0.3, 0.2,
     0.3, 0.5, 1.5, 2.5, 1.5, 0.8, 0.5, 0.3, 0.2, 0.5, 1.0, 0.5, 0.3, 0.2, 0.1, 0.1],
    [0.5, 0.6, 0.3, 0.5, 0.6, 0.5, 0.4, 0.4, 0.2, 0.2, 0.2, 0.6,
     3.0, 4.0, 2.0, 1.5, 1.0, 0.8, 0.5, 1.0, 3.5, 1.5, 1.0, 0.5, 0.3, 0.2, 0.3, 0.5, 0.8, 0.5, 0.3, 0.2,
     0.3, 0.5, 1.0, 0.5, 0.3, 0.2, 0.1, 0.3, 0.5, 1.0, 2.0, 1.0, 0.5, 0.3, 0.2, 0.1,
     0.2, 0.3, 0.5, 0.3, 0.2, 0.1, 0.2, 0.5, 1.0, 0.5, 0.3, 0.2, 0.1, 0.1, 0.1, 0.1],
    [0.5, 0.6, 0.3, 0.5, 0.6, 0.5, 0.4, 0.4, 0.2, 0.2, 0.2, 0.6,
     2.0, 3.5, 2.5, 2.0, 1.5, 1.0, 0.5, 0.8, 1.5, 1.0, 0.5, 0.3, 0.2, 0.5, 1.0, 0.8, 0.5, 0.3, 0.5, 0.8,
     1.0, 0.5, 0.3, 0.2, 0.1, 0.3, 0.5, 1.0, 0.5, 0.3, 0.5, 1.0, 2.0, 1.5, 1.0, 2.5,
     4.0, 7.8, 3.0, 1.0, 0.5, 0.3, 0.2, 0.5, 1.5, 3.0, 1.5, 0.8, 0.5, 0.3, 0.2, 0.1],
    [0.5, 0.7, 0.3, 0.5, 0.6, 0.5, 0.4, 0.4, 0.2, 0.2, 0.2, 0.6,
     2.5, 3.5, 2.0, 1.5, 1.0, 0.5, 0.3, 0.5, 1.0, 0.5, 0.3, 0.5, 1.0, 2.0, 3.0, 5.7, 2.0, 1.0, 0.5, 0.3,
     0.5, 1.0, 0.5, 0.3, 0.2, 0.1, 0.2, 0.5, 1.0, 0.5, 0.3, 0.2, 0.1, 0.2, 0.5, 0.3,
     0.2, 0.5, 1.0, 2.0, 1.0, 0.5, 0.3, 0.2, 0.1, 0.2, 0.5, 1.0, 0.5, 0.3, 0.2, 0.1],
    [0.5, 0.6, 0.3, 0.5, 0.6, 0.5, 0.4, 0.4, 0.2, 0.2, 0.2, 0.6,
     2.5, 4.0, 2.0, 1.5, 1.0, 0.8, 0.5, 1.0, 2.0, 1.0, 0.5, 0.3, 0.2, 0.3, 0.5, 0.3, 0.2, 0.5, 1.0, 0.5,
     0.3, 0.2, 0.5, 1.0, 0.5, 0.3, 0.2, 0.1, 0.2, 0.5, 1.0, 0.5, 0.3, 0.5, 1.5, 3.0,
     5.0, 3.0, 6.0, 11.3, 4.0, 1.5, 0.8, 0.5, 0.3, 0.2, 0.5, 1.0, 0.5, 0.3, 0.2, 0.1],
    [0.5, 0.6, 0.3, 0.5, 0.6, 0.5, 0.4, 0.4, 0.2, 0.2, 0.2, 0.6,
     3.5, 5.0, 2.5, 1.5, 1.0, 0.5, 0.3, 0.8, 2.5, 1.0, 0.5, 0.3, 0.2, 0.5, 1.0, 0.5, 0.3, 0.5, 1.0, 0.8,
     0.5, 0.3, 0.2, 0.5, 1.0, 0.5, 0.3, 0.2, 0.1, 0.2, 0.5, 0.3, 0.2, 0.1, 0.2, 0.5,
     1.0, 0.5, 0.3, 0.2, 0.5, 1.0, 0.5, 0.3, 0.2, 0.1, 0.2, 0.5, 1.5, 3.0, 7.9, 1.0],
    [0.5, 0.6, 0.3, 0.5, 0.6, 0.5, 0.4, 0.4, 0.2, 0.2, 0.2, 0.7,
     5.0, 11.2, 3.0, 1.5, 1.0, 0.5, 0.3, 0.8, 2.5, 1.0, 0.5, 0.3, 0.2, 0.3, 0.5, 0.3, 0.2, 0.3, 0.5, 0.3,
     0.2, 0.5, 1.0, 0.5, 0.3, 0.2, 0.1, 0.2, 0.5, 1.0, 0.5, 0.3, 0.2, 0.1, 0.2, 0.3,
     0.5, 1.0, 2.5, 1.5, 0.8, 0.5, 0.3, 0.2, 0.1, 0.2, 0.3, 0.2, 0.1, 0.1, 0.1, 0.1],
]

# ---- snow risk (% of scenarios) ----
snow_hours = [72, 78, 84, 90, 96, 102, 108, 114, 120, 126, 132, 138, 144, 156, 174, 186,
              228, 234, 240, 252, 258, 264, 270, 276, 282, 288,
              306, 312, 318, 324, 330, 336, 342, 348, 354, 360, 366, 372, 378, 384]
snow_pct = [20, 20, 5, 5, 5, 5, 15, 20, 25, 25, 25, 15, 5, 5, 5, 5,
            5, 15, 5, 5, 5, 5, 5, 10, 5, 10,
            10, 5, 10, 5, 15, 25, 20, 25, 30, 30, 25, 25, 15, 15]

MONO = "DejaVu Sans Mono"
FS = 7.2
PR0 = -45  # 0 mm sits on the -45 degC line

for name, rows, n in (("t850", pert_t850, 65), ("t500", pert_t500, 65), ("pr", pert_pr, 64)):
    for k, r in enumerate(rows):
        assert len(r) == n, (name, k + 1, len(r))

fig = plt.figure(figsize=(7.4, 7.0), dpi=100)
W, H = 740.0, 700.0
ax = fig.add_axes([50 / W, 100 / H, 640 / W, 600 / H])
ax.set_xlim(0, 384)
ax.set_ylim(-52.71, 33.0)

# grid
for d in day_hours:
    ax.axvline(d, color="#c0c0c0", lw=0.8, zorder=0)
for y in range(-45, 31, 5):
    if y == 0:
        ax.axhline(y, color="#999999", lw=2.0, zorder=0)
    elif y % 10 == 0:
        ax.axhline(y, color="#c0c0c0", lw=1.5, zorder=0)
    else:
        ax.axhline(y, color="#c0c0c0", lw=0.8, zorder=0)

# perturbations
for c, a, b, p in zip(pert_colors, pert_t850, pert_t500, pert_pr):
    kw = dict(color=c, lw=0.75, marker="+", ms=2.6, mew=0.6, zorder=2)
    ax.plot(hours, a, **kw)
    ax.plot(hours, b, **kw)
    ax.plot(hours[1:], [PR0 + v for v in p], **kw)

# GFS run
for s in (gfs_t850, gfs_t500):
    ax.plot(gfs_hours, s, color="black", lw=2.3, zorder=4)
ax.plot(gfs_hours[1:], [PR0 + v for v in gfs_pr], color="black", lw=2.0, zorder=4)

# control run
for s in (ctl_t850, ctl_t500):
    ax.plot(hours, s, color="#0000ff", lw=2.5, zorder=5)
ax.plot(hours[1:], [PR0 + v for v in ctl_pr], color="#0000ff", lw=2.0, zorder=5)

# ensemble mean
for s in (mean_t850, mean_t500):
    ax.plot(hours, s, color="#ff0000", lw=3.4, zorder=6)
ax.plot(hours[1:], [PR0 + v for v in mean_pr], color="#ff0000", lw=3.0, zorder=6)

# snow risk row
for h, p in zip(snow_hours, snow_pct):
    ax.add_patch(Rectangle((h - 3, -50.6), 6, 0.75, color="#ccffff", lw=0, zorder=1))
    ax.text(h, -50.0, f"{p}%", rotation=90, ha="center", va="bottom", fontsize=5.8,
            color="#0000ff", family=MONO, zorder=3)
ax.scatter(snow_hours, [-51.0] * len(snow_hours), s=48, c="#8fd3f4", lw=0, zorder=3)
ax.scatter(snow_hours, [-51.0] * len(snow_hours), s=14, c="white", marker="*", lw=0, zorder=3)

# series labels
ax.text(6, 0.15, "Temp. 850hPa", fontsize=FS, family=MONO, va="bottom", zorder=7)
ax.text(6, -20.0, "Temp. 500hPa", fontsize=FS, family=MONO, va="center", zorder=7)
ax.text(6, -36.6, "Précipitations", fontsize=FS, family=MONO, va="center", zorder=7)

# axes styling
for side in ("left", "bottom", "right"):
    ax.spines[side].set_color("black")
    ax.spines[side].set_linewidth(1.0)
ax.spines["top"].set_visible(False)
ax.set_yticks(range(-45, 31, 5))
ax.set_yticklabels([str(v) for v in range(-45, 31, 5)], family=MONO, fontsize=FS)
ax.tick_params(axis="y", length=0, pad=9)
ax.set_xticks(day_hours)
ax.set_xticklabels([])
ax.tick_params(axis="x", length=5, color="#a0a0a0", width=0.8)
for h, lab in zip(day_hours, day_labels):
    ax.text(h + 4.5, -53.0, lab, rotation=90, ha="center", va="top", fontsize=FS,
            family=MONO, clip_on=False)

sec = ax.secondary_yaxis("right", functions=(lambda y: y - PR0, lambda y: y + PR0))
sec.set_yticks(range(0, 76, 5))
sec.set_yticklabels([str(v) for v in range(0, 76, 5)], family=MONO, fontsize=FS)
sec.tick_params(length=0, pad=13)
sec.spines["right"].set_linewidth(1.0)

# ---- bottom legend area (figure pixel coords) ----
def fx(px):
    return px / W


def fy(py):
    return 1 - py / H


fig.text(fx(31), fy(606), "(°C)", fontsize=FS, family=MONO, ha="center", va="center")
fig.text(fx(722), fy(606), "(mm)", fontsize=FS, family=MONO, ha="center", va="center")

fig.add_artist(Line2D([fx(35), fx(65)], [fy(631), fy(631)], color="#ff0000", lw=3.5))
fig.text(fx(75), fy(637), "Moyenne des scénarios", fontsize=FS, family=MONO, va="center")
fig.add_artist(Line2D([fx(225), fx(256)], [fy(637), fy(637)], color="#0000ff", lw=3.2))
fig.text(fx(265), fy(637), "Run de contrôle", fontsize=FS, family=MONO, va="center")
fig.add_artist(Line2D([fx(225), fx(256)], [fy(647), fy(647)], color="black", lw=3.2))
fig.text(fx(265), fy(647), "Run GFS", fontsize=FS, family=MONO, va="center")
fig.add_artist(Line2D([fx(60)], [fy(658)], marker="o", ms=7, color="#8fd3f4", lw=0))
fig.add_artist(Line2D([fx(60)], [fy(658)], marker="*", ms=3.5, color="white", lw=0))
fig.text(fx(75), fy(658), "Risque neige (par rapport a tous les scénarios)", fontsize=FS,
         family=MONO, va="center")

fig.text(fx(370), fy(652), "20 Perturbations", fontsize=FS, family=MONO, va="center")
for k, c in enumerate(pert_colors):
    x0 = 470 + 11 * k
    fig.add_artist(Rectangle((fx(x0), fy(656)), 10 / W, 6 / H, color=c, lw=0))
    fig.text(fx(x0 + 5), fy(644), f"{k + 1:02d}", fontsize=5.0, family=MONO,
             weight="bold", ha="center", va="center")

fig.add_artist(Rectangle((fx(20), fy(699)), 420 / W, 32 / H, fill=False, ec="black", lw=1.5))
fig.text(fx(30), fy(677), "Diagramme des ensembles GEFS sur 384h : 52.1N 5.2E", fontsize=8.4,
         family=MONO, weight="bold", va="center")
fig.text(fx(30), fy(692), "Températures 850hPa et 500hPa (°C) , précipitations (mm)",
         fontsize=FS, family=MONO, va="center")
fig.text(fx(450), fy(672), "Ensemble GEFS du 17/12/2012 - 06h", fontsize=FS, family=MONO,
         va="center")
fig.text(fx(450), fy(691), "Copyright 2012 Meteociel.fr", fontsize=8.4, family=MONO,
         weight="bold", va="center")

fig.savefig("out.png", dpi=100)
